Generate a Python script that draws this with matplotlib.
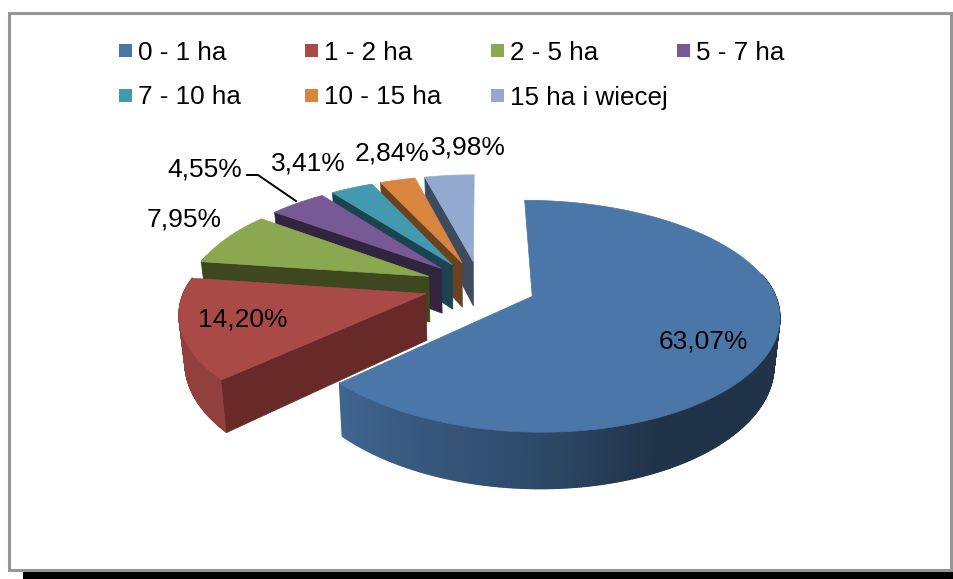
import numpy as np
import matplotlib
matplotlib.use("Agg")
import matplotlib.pyplot as plt
from matplotlib.patches import Rectangle
from matplotlib.collections import PolyCollection

categories = ["0 - 1 ha", "1 - 2 ha", "2 - 5 ha", "5 - 7 ha", "7 - 10 ha", "10 - 15 ha", "15 ha i wiecej"]
values = [63.07, 14.20, 7.95, 4.55, 3.41, 2.84, 3.98]

top_colors = ["#4a76a8", "#aa4a47", "#8aa84f", "#775a95", "#4299b0", "#d9853f", "#93a9cf"]
wall_colors = ["#2a4a6e", "#672a28", "#3f4720", "#30243f", "#1a4450", "#6b4220", "#3e4a5e"]
label_xy = [(703, 348), (243, 327), (184, 227), (205, 176), (308, 170), (392, 161), (468, 154)]

W, H = 954, 579
CX, CY, RX, RY, PERSP, PERSP_X_BACK, PERSP_X_FRONT, EXPLODE, DEPTH = 480, 286, 240, 109, 0.169, 0.169, 0.15, 0.234, 46
FONT = "Liberation Sans"


def project(u, v, drop=0.0):
    s = 1.0 / (1.0 + PERSP * v)
    sx = 1.0 / (1.0 + np.where(np.asarray(v) > 0, PERSP_X_BACK, PERSP_X_FRONT) * v)
    return CX + RX * u * sx * (1 - 0.02 * drop / DEPTH), CY - RY * v * s + drop * s


def shade(hexcol, f):
    return tuple(c * f for c in matplotlib.colors.to_rgb(hexcol))


fig = plt.figure(figsize=(W / 100, H / 100), dpi=100, facecolor="white")
ax = fig.add_axes([0, 0, 1, 1])
ax.set_xlim(0, W)
ax.set_ylim(H, 0)
ax.axis("off")

# chart frame with its hard black shadow
ax.add_patch(Rectangle((23, 28), W - 23, H - 28, fc="black", ec="none", zorder=0))
ax.add_patch(Rectangle((9, 13), 942, 557, fc="white", ec="#969696", lw=2.2, zorder=1))

fractions = np.array(values) / sum(values) * 360.0
starts = np.concatenate([[0.0], np.cumsum(fractions)[:-1]])
z = 2
for i in range(len(values) - 1, -1, -1):
    t0, t1 = starts[i], starts[i] + fractions[i]
    mid = np.radians((t0 + t1) / 2)
    au, av = EXPLODE * np.sin(mid), EXPLODE * np.cos(mid)
    ts = np.radians(np.linspace(t0, t1, max(int(fractions[i]) * 2, 12) + 1))
    ou, ov = au + np.sin(ts), av + np.cos(ts)

    # outer rim (only the part facing the viewer), shaded along the arc
    quads, cols = [], []
    for j in range(len(ts) - 1):
        if np.cos(ts[j]) > 0.2:
            continue
        p0, p1 = project(ou[j], ov[j]), project(ou[j + 1], ov[j + 1])
        q1, q0 = project(ou[j + 1], ov[j + 1], DEPTH), project(ou[j], ov[j], DEPTH)
        quads.append([p0, p1, q1, q0])
        deg = np.degrees(ts[j])
        f = np.interp(deg, [80, 155, 180, 227, 300], [0.43, 0.43, 0.62, 0.86, 0.86])
        cols.append(shade(top_colors[i], f))
    if quads:
        ax.add_collection(PolyCollection(quads, facecolors=cols, edgecolors=cols, linewidths=1.0, zorder=z))

    # radial cut face: only the one turned towards the viewer
    if t0 > 180:
        a0, a1 = project(au, av), project(ou[0], ov[0])
        b1, b0 = project(ou[0], ov[0], DEPTH), project(au, av, DEPTH)
        ax.fill(*zip(a0, a1, b1, b0), color=wall_colors[i], lw=0.5, zorder=z + 0.2)

    # top surface
    px, py = project(np.r_[au, ou], np.r_[av, ov])
    ax.fill(px, py, color=top_colors[i], lw=0.5, zorder=z + 0.5)
    z += 1

# leader line of the 4,55% label
ax.plot([247, 258, 296], [175, 175, 201], color="black", lw=1.4, zorder=20)

# data labels
for v, (x, y) in zip(values, label_xy):
    ax.text(x, y, f"{v:.2f}%".replace(".", ","), ha="center", va="baseline",
            fontsize=19, family=FONT, color="black", zorder=21)

# legend
for i, (name, col) in enumerate(zip(categories, top_colors)):
    c, r = i % 4, i // 4
    x, y = 119 + 186 * c, 43.5 + 45 * r
    ax.add_patch(Rectangle((x, y), 13.5, 13.5, fc=col, ec="none", zorder=21))
    ax.text(x + 19, y + 16, name, ha="left", va="baseline", fontsize=18.7, family=FONT, color="black", zorder=21)

fig.savefig("out.png", dpi=100, facecolor="white")
